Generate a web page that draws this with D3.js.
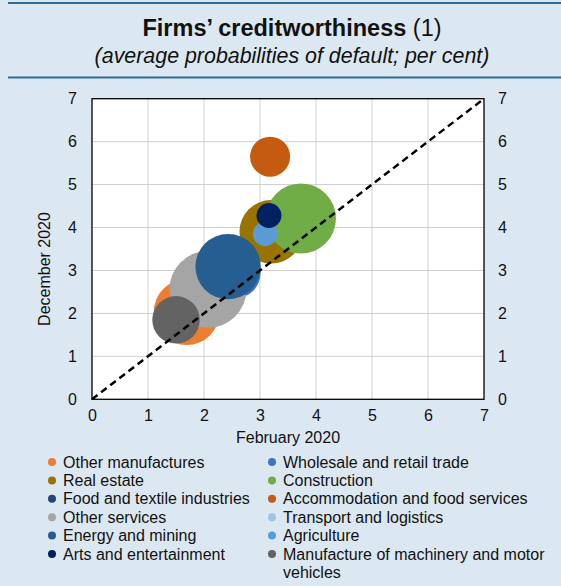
<!DOCTYPE html>
<html>
<head>
<meta charset="utf-8">
<script src="https://cdn.jsdelivr.net/npm/d3@7"></script>
<style>
  body { margin: 0; background: #dce8f1; }
  svg { display: block; font-family: "Liberation Sans", Arial, sans-serif; }
</style>
</head>
<body>
<script>
// sectors in Excel series order (legend read row by row)
var sectors = ["Other manufactures", "Wholesale and retail trade", "Real estate", "Construction",
  "Food and textile industries", "Accommodation and food services", "Other services",
  "Transport and logistics", "Energy and mining", "Agriculture", "Arts and entertainment",
  "Manufacture of machinery and motor vehicles"];
var feb2020 = [1.69, 2.55, 3.2, 3.73, 2.0, 3.18, 2.07, 3.08, 2.43, 3.09, 3.16, 1.5];
var dec2020 = [2.03, 2.95, 3.9, 4.21, 2.5, 5.65, 2.56, 3.83, 3.09, 3.85, 4.28, 1.85];
var weights = [73, 45, 68, 83, 40, 27, 100, 7, 72, 10, 10.5, 38];
var colors = ["#ed7d31", "#4472c4", "#997300", "#70ad47", "#264478", "#c55a11", "#a5a5a5",
  "#9dc3e6", "#255e91", "#5b9bd5", "#002060", "#636363"];
var ticks = [0, 1, 2, 3, 4, 5, 6, 7];

var width = 561, height = 586;
var pLeft = 92, pRight = 484, pTop = 98.7, pBottom = 399.3;

var svg = d3.select("body").append("svg")
  .attr("width", width)
  .attr("height", height);

// header rules
svg.append("line").attr("x1", 8).attr("x2", width).attr("y1", 3).attr("y2", 3)
  .attr("stroke", "#2b6d92").attr("stroke-width", 2);
svg.append("line").attr("x1", 8).attr("x2", width).attr("y1", 77.5).attr("y2", 77.5)
  .attr("stroke", "#2b6d92").attr("stroke-width", 2);

var title = svg.append("text").attr("x", 292).attr("y", 36)
  .attr("text-anchor", "middle").attr("font-size", 23.5).attr("fill", "#111");
title.append("tspan").attr("font-weight", "bold").text("Firms’ creditworthiness");
title.append("tspan").text(" (1)");

svg.append("text").attr("x", 292).attr("y", 63)
  .attr("text-anchor", "middle").attr("font-size", 21.4).attr("font-style", "italic")
  .attr("fill", "#111").text("(average probabilities of default; per cent)");

var x = d3.scaleLinear().domain([0, 7]).range([pLeft, pRight]);
var y = d3.scaleLinear().domain([0, 7]).range([pBottom, pTop]);
var r = d3.scaleSqrt().domain([0, 100]).range([0, 38.5]);

svg.append("rect").attr("x", pLeft).attr("y", pTop)
  .attr("width", pRight - pLeft).attr("height", pBottom - pTop).attr("fill", "#fff");

// grid
svg.append("g").selectAll("line").data(ticks.slice(1, -1)).enter().append("line")
  .attr("x1", function(d){ return x(d); }).attr("x2", function(d){ return x(d); })
  .attr("y1", pTop).attr("y2", pBottom).attr("stroke", "#cfcfcf");
svg.append("g").selectAll("line").data(ticks.slice(1, -1)).enter().append("line")
  .attr("y1", function(d){ return y(d); }).attr("y2", function(d){ return y(d); })
  .attr("x1", pLeft).attr("x2", pRight).attr("stroke", "#cfcfcf");

// bubbles
var idx = d3.range(sectors.length);
svg.append("g").selectAll("circle").data(idx).enter().append("circle")
  .attr("cx", function(i){ return x(feb2020[i]); })
  .attr("cy", function(i){ return y(dec2020[i]); })
  .attr("r", function(i){ return r(weights[i]); })
  .attr("fill", function(i){ return colors[i]; });

// 45 degree line
svg.append("line")
  .attr("x1", x(0)).attr("y1", y(0)).attr("x2", x(7)).attr("y2", y(7))
  .attr("stroke", "#000").attr("stroke-width", 2.5).attr("stroke-dasharray", "7,4.5");

svg.append("rect").attr("x", pLeft).attr("y", pTop)
  .attr("width", pRight - pLeft).attr("height", pBottom - pTop)
  .attr("fill", "none").attr("stroke", "#000").attr("stroke-width", 1.3);

// axes
var fmt = d3.format("d");
var axL = svg.append("g").attr("transform", "translate(" + pLeft + ",0)")
  .call(d3.axisLeft(y).tickValues(ticks).tickFormat(fmt).tickSize(0).tickPadding(15));
var axR = svg.append("g").attr("transform", "translate(" + pRight + ",0)")
  .call(d3.axisRight(y).tickValues(ticks).tickFormat(fmt).tickSize(0).tickPadding(14));
var axB = svg.append("g").attr("transform", "translate(0," + pBottom + ")")
  .call(d3.axisBottom(x).tickValues(ticks).tickFormat(fmt).tickSize(0).tickPadding(10));
[axL, axR, axB].forEach(function(a){
  a.select(".domain").remove();
  a.selectAll("text").attr("font-size", 16).attr("fill", "#111")
    .attr("font-family", "Liberation Sans, Arial, sans-serif");
});

svg.append("text").attr("transform", "translate(50,269) rotate(-90)")
  .attr("text-anchor", "middle").attr("font-size", 16).attr("fill", "#111")
  .text("December 2020");
svg.append("text").attr("x", 288).attr("y", 443)
  .attr("text-anchor", "middle").attr("font-size", 16).attr("fill", "#111")
  .text("February 2020");

// legend: two columns, filled row by row
var legend = svg.append("g").selectAll("g").data(idx).enter().append("g")
  .attr("transform", function(i){
    var col = i % 2, row = Math.floor(i / 2);
    return "translate(" + (col ? 272 : 52) + "," + (462 + row * 18.4) + ")";
  });
legend.append("circle").attr("r", 4).attr("fill", function(i){ return colors[i]; });
legend.append("text").attr("x", 11).attr("dy", "0.35em")
  .attr("font-size", 16).attr("fill", "#111")
  .each(function(i){
    var t = d3.select(this);
    if (i === 11) {
      t.append("tspan").attr("x", 11).text("Manufacture of machinery and motor");
      t.append("tspan").attr("x", 11).attr("dy", 18.4).text("vehicles");
    } else {
      t.text(sectors[i]);
    }
  });
</script>
</body>
</html>
